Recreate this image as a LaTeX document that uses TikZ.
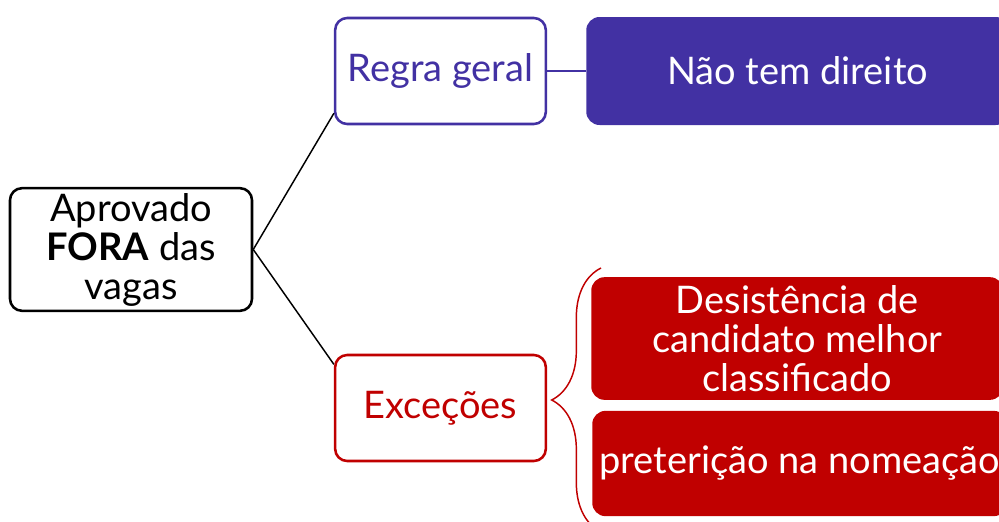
\documentclass[tikz,border=0pt]{standalone}
\usepackage{fontspec}
\setmainfont{Lato}
\usetikzlibrary{decorations.pathreplacing}
\definecolor{roxo}{HTML}{4231A3}
\definecolor{vermelho}{HTML}{C00000}
\begin{document}
\begin{tikzpicture}[x=0.75pt, y=-0.75pt, font=\fontsize{28.5}{29.25}\selectfont,
        caixa/.style={draw, rounded corners=9pt, line width=1.9pt, align=center, inner sep=0pt},
        cheia/.style={fill=#1, rounded corners=10pt, text=white, align=center, inner sep=0pt, anchor=west}]
        \useasboundingbox (0,0) rectangle (999,521);
        % raiz
        \node[caixa, minimum width=181.5pt, minimum height=92pt] (raiz) at (131,249.5) {Aprovado\\\textbf{FORA} das\\vagas};
        % ramos
        \node[caixa, draw=roxo, text=roxo, minimum width=158pt, minimum height=79.5pt] (regra) at (440.5,71) {Regra geral};
        \node[caixa, draw=vermelho, text=vermelho, minimum width=158pt, minimum height=79.5pt] (excecoes) at (440.5,408) {Exceções};
        % folhas
        \node[cheia=roxo, minimum width=317pt, minimum height=81pt] (naotem) at (586,71) {Não tem direito};
        \node[cheia=vermelho, minimum width=309pt, minimum height=92pt] (desist) at (591,338.5) {Desistência de\\candidato melhor\\classificado};
        \node[cheia=vermelho, minimum width=311pt, minimum height=79pt] (pret) at (592,463.5) {preterição na nomeação};
        % ligacoes
        \draw[line width=1.1pt] (raiz.east) -- ([yshift=9pt]regra.south west);
        \draw[line width=1.1pt] (raiz.east) -- ([yshift=-8pt]excecoes.north west);
        \draw[roxo, line width=2.2pt] (regra.east) -- (naotem.west);
        % chave
        \coordinate (chavetopo) at (601,268);
        \coordinate (chavebase) at (601,532);
        \draw[vermelho, line width=1.1pt, decorate, decoration={brace, amplitude=37pt}] (chavebase) -- (chavetopo);
\end{tikzpicture}
\end{document}
